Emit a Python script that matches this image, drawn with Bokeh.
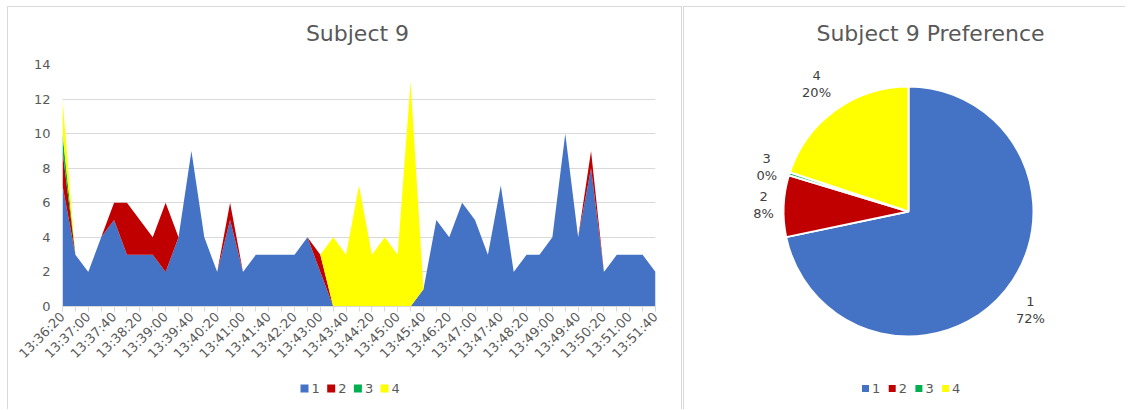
import math
from bokeh.plotting import figure
from bokeh.models import ColumnDataSource, FixedTicker, Range1d
from bokeh.layouts import row, column
from bokeh.embed import file_html
from bokeh.resources import INLINE

# ---------------- data ----------------
times = ["13:36:20", "13:36:40", "13:37:00", "13:37:20", "13:37:40", "13:38:00", "13:38:20",
         "13:38:40", "13:39:00", "13:39:20", "13:39:40", "13:40:00", "13:40:20", "13:40:40",
         "13:41:00", "13:41:20", "13:41:40", "13:42:00", "13:42:20", "13:42:40", "13:43:00",
         "13:43:20", "13:43:40", "13:44:00", "13:44:20", "13:44:40", "13:45:00", "13:45:20",
         "13:45:40", "13:46:00", "13:46:20", "13:46:40", "13:47:00", "13:47:20", "13:47:40",
         "13:48:00", "13:48:20", "13:48:40", "13:49:00", "13:49:20", "13:49:40", "13:50:00",
         "13:50:20", "13:50:40", "13:51:00", "13:51:20", "13:51:40"]

pref1 = [7, 3, 2, 4, 5, 3, 3, 3, 2, 4, 9, 4, 2, 5, 2, 3, 3, 3, 3, 4, 2, 0, 0, 0, 0, 0, 0, 0,
         1, 5, 4, 6, 5, 3, 7, 2, 3, 3, 4, 10, 4, 8, 2, 3, 3, 3, 2]
pref2 = [2, 0, 0, 0, 1, 3, 2, 1, 4, 0, 0, 0, 0, 1, 0, 0, 0, 0, 0, 0, 1, 0, 0, 0, 0, 0, 0, 0,
         0, 0, 0, 0, 0, 0, 0, 0, 0, 0, 0, 0, 0, 1, 0, 0, 0, 0, 0]
pref3 = [1, 0, 0, 0, 0, 0, 0, 0, 0, 0, 0, 0, 0, 0, 0, 0, 0, 0, 0, 0, 0, 0, 0, 0, 0, 0, 0, 0,
         0, 0, 0, 0, 0, 0, 0, 0, 0, 0, 0, 0, 0, 0, 0, 0, 0, 0, 0]
pref4 = [2, 0, 0, 0, 0, 0, 0, 0, 0, 0, 0, 0, 0, 0, 0, 0, 0, 0, 0, 0, 0, 4, 3, 7, 3, 4, 3, 13,
         0, 0, 0, 0, 0, 0, 0, 0, 0, 0, 0, 0, 0, 0, 0, 0, 0, 0, 0]

series_names = ["1", "2", "3", "4"]
y_ticks = [0, 2, 4, 6, 8, 10, 12, 14]

pie_labels = ["1", "2", "3", "4"]
pie_share = [72, 8, 0.4, 20]

colors = ["#4472C4", "#C00000", "#00B050", "#FFFF00"]
FONT = "DejaVu Sans"
TXT = "#595959"
GRID = "#d9d9d9"
BORDER = "1px solid #d9d9d9"


def no_align(fig):
    try:
        fig.frame_align = False
    except Exception:
        pass


def strip(width, height, margin, styles):
    """A full-frame figure whose data units are canvas pixels (y pointing down)."""
    f = figure(width=width, height=height, output_backend="svg", toolbar_location=None,
               x_range=Range1d(0, width), y_range=Range1d(height, 0), min_border=0,
               x_axis_location=None, y_axis_location=None, title=None,
               outline_line_color=None, margin=margin, styles=styles)
    no_align(f)
    f.grid.visible = False
    return f


# ---------------- left panel ----------------
OX, OY = 8, 7            # canvas origin of the left panel on the page
LW = 675
TH = 50 - OY             # title strip height (page y 7..50)
LH = 372 - 50            # chart height (page y 50..372)
GH = 410 - 372           # legend strip height (page y 372..410)

t = strip(LW, TH, (6, 0, 0, 7),
          {"border-top": BORDER, "border-left": BORDER, "border-right": BORDER})
t.text(x=[357 - OX], y=[33 - OY], text=["Subject 9"], text_align="center",
       text_baseline="middle", text_font_size="22px", text_color=TXT,
       text_font={"value": FONT})

x = list(range(len(times)))
src = ColumnDataSource(dict(x=x, s1=pref1, s2=pref2, s3=pref3, s4=pref4))

FL, FT, FR, FB = 62 - OX, 65 - 50, 655 - OX, 307 - 50   # frame edges in canvas pixels
p = figure(width=LW, height=LH, output_backend="svg", toolbar_location=None,
           x_range=Range1d(0, len(times) - 1), y_range=Range1d(0, 14),
           min_border_left=FL, min_border_right=LW - FR, min_border_top=FT,
           min_border_bottom=LH - FB, outline_line_color=None, title=None,
           margin=(0, 0, 0, 7),
           styles={"border-left": BORDER, "border-right": BORDER})
no_align(p)

rs = p.varea_stack(stackers=["s1", "s2", "s3", "s4"], x="x", color=colors, source=src)

p.xgrid.grid_line_color = None
p.ygrid.grid_line_color = GRID
p.ygrid.ticker = FixedTicker(ticks=y_ticks)

xa = p.xaxis[0]
xa.ticker = FixedTicker(ticks=list(range(0, len(times), 2)), minor_ticks=list(range(len(times))))
xa.major_label_overrides = {i: times[i] for i in range(0, len(times), 2)}
xa.major_label_orientation = math.pi / 4
xa.axis_line_color = GRID
xa.major_tick_line_color = GRID
xa.minor_tick_line_color = GRID
xa.major_tick_out = 5
xa.minor_tick_out = 5
xa.major_tick_in = 0
xa.minor_tick_in = 0
xa.major_label_standoff = 3
xa.major_label_text_font = FONT
xa.major_label_text_font_size = "13px"
xa.major_label_text_color = TXT

ya = p.yaxis[0]
ya.ticker = FixedTicker(ticks=y_ticks)
ya.axis_line_color = None
ya.major_tick_line_color = None
ya.minor_tick_line_color = None
ya.major_tick_out = 0
ya.major_tick_in = 0
ya.major_label_standoff = 12
ya.major_label_text_font = FONT
ya.major_label_text_font_size = "13px"
ya.major_label_text_color = TXT

g = strip(LW, GH, (0, 0, 0, 7), {"border-left": BORDER, "border-right": BORDER})
lstep = 26.7
lsq = [304 - OX + i * lstep for i in range(len(series_names))]
ly0 = 389 - 372
g.scatter(x=lsq, y=[ly0] * 4, marker="square", size=8, fill_color=colors, line_color=None)
g.text(x=[v + 7 for v in lsq], y=[ly0] * 4, text=series_names, text_align="left",
       text_baseline="middle", text_font_size="13px", text_color=TXT,
       text_font={"value": FONT})

# ---------------- right: pie ----------------
PX0, PY0 = 686, 7        # canvas origin of the right panel on the page
RW, RH = 1128 - PX0, 410 - PY0
R = 125.0                                  # pie radius in pixels
CX, CY = 910.0 - PX0, 211.0 - PY0          # pie centre in canvas pixels

q = figure(width=RW, height=RH, output_backend="svg", toolbar_location=None,
           x_range=Range1d(-CX / R, (RW - CX) / R), y_range=Range1d(-(RH - CY) / R, CY / R),
           min_border=0, x_axis_location=None, y_axis_location=None, title=None,
           outline_line_color=None, margin=(6, 0, 0, 1),
           styles={"border-top": BORDER, "border-left": BORDER})
no_align(q)
q.grid.visible = False


def px(xp):
    return (xp - PX0 - CX) / R


def py(yp):
    return (CY - (yp - PY0)) / R


total = sum(pie_share)
starts, ends, mids = [], [], []
cum = 0.0
for v in pie_share:
    a0 = math.pi / 2 - 2 * math.pi * cum / total
    cum += v
    a1 = math.pi / 2 - 2 * math.pi * cum / total
    starts.append(a0)
    ends.append(a1)
    mids.append((a0 + a1) / 2)

wsrc = ColumnDataSource(dict(start=starts, end=ends, color=colors))
q.wedge(x=0, y=0, radius=1, start_angle="start", end_angle="end", direction="clock",
        fill_color="color", line_color="white", line_width=2, source=wsrc)

label_r = [1.256, 1.16, 1.19, 1.256]
lx = [lr * math.cos(m) for lr, m in zip(label_r, mids)]
lyy = [lr * math.sin(m) for lr, m in zip(label_r, mids)]
pct = ["%d%%" % round(100 * v / total) for v in pie_share]
off = 8.5 / R
q.text(x=lx, y=[v + off for v in lyy], text=pie_labels, text_align="center",
       text_baseline="middle", text_font_size="13px", text_color="#404040",
       text_font={"value": FONT})
q.text(x=lx, y=[v - off for v in lyy], text=pct, text_align="center",
       text_baseline="middle", text_font_size="13px", text_color="#404040",
       text_font={"value": FONT})

q.text(x=[px(932)], y=[py(33)], text=["Subject 9 Preference"], text_align="center",
       text_baseline="middle", text_font_size="22px", text_color=TXT,
       text_font={"value": FONT})

pstep = 26.7
psq = [px(867 + i * pstep) for i in range(len(pie_labels))]
q.scatter(x=psq, y=[py(388)] * 4, marker="square", size=7, fill_color=colors, line_color=None)
q.text(x=[v + 6.5 / R for v in psq], y=[py(388)] * 4, text=pie_labels, text_align="left",
       text_baseline="middle", text_font_size="13px", text_color=TXT,
       text_font={"value": FONT})

layout = row(column(t, p, g, spacing=0), q, spacing=0)
open("out.html", "w").write(file_html(layout, INLINE))
